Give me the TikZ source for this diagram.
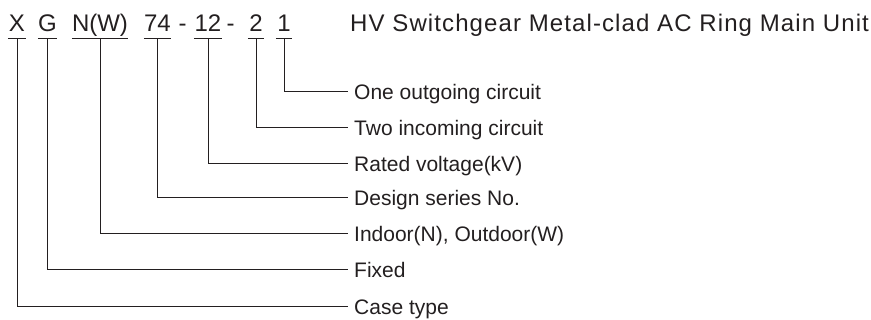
\documentclass[tikz,border=0pt]{standalone}
\usepackage{fontspec}
\setmainfont{Liberation Sans}
\definecolor{ink}{HTML}{231F20}
\begin{document}
\begin{tikzpicture}[x=1pt,y=-1pt,
  code/.style={anchor=base,inner xsep=0pt,inner ysep=6pt,text height=17pt,text depth=0pt,
    font=\fontsize{24}{24}\selectfont,text=ink},
  dashtxt/.style={anchor=base,inner sep=0pt,font=\fontsize{24}{24}\selectfont,text=ink},
  lbl/.style={anchor=west,inner xsep=6.5pt,inner ysep=0pt,text height=15pt,text depth=0pt,
    font=\fontsize{21}{21}\selectfont,text=ink},
  wire/.style={draw=ink,line width=1pt}]
\useasboundingbox (0,0) rectangle (871,320);
% code letters
\node[code,minimum width=18pt] (cX) at (17,32) {X};
\node[code,minimum width=19pt] (cG) at (47.5,32) {G};
\node[code,minimum width=56pt] (cN) at (100,32) {N(W)};
\node[code,minimum width=27pt] (c74) at (157.5,32) {74};
\node[dashtxt] (d1) at (182.5,32) {-};
\node[code,minimum width=28pt] (c12) at (208,32) {12};
\node[dashtxt] (d2) at (230.5,32) {-};
\node[code,minimum width=16pt] (c2) at (256,32) {2};
\node[code,minimum width=16pt] (c1) at (284,32) {1};
\node[anchor=base west,inner sep=0pt,font=\fontsize{24}{24}\selectfont\addfontfeatures{LetterSpace=4.6},text=ink] (title) at (350,32) {HV Switchgear Metal-clad AC Ring Main Unit};
% labels
\node[lbl] (l1) at (347.5,92) {One outgoing circuit};
\node[lbl] (l2) at (347.5,128) {Two incoming circuit};
\node[lbl] (l12) at (347.5,164) {Rated voltage(kV)};
\node[lbl] (l74) at (347.5,198) {Design series No.};
\node[lbl] (lN) at (347.5,234) {Indoor(N), Outdoor(W)};
\node[lbl] (lG) at (347.5,270) {Fixed};
\node[lbl] (lX) at (347.5,307) {Case type};
% underlines
\foreach \c in {cX,cG,cN,c74,c12,c2,c1}
  \draw[wire] (\c.south west) -- (\c.south east);
% connectors
\draw[wire] (c1.south) |- (l1.west);
\draw[wire] (c2.south) |- (l2.west);
\draw[wire] (c12.south) |- (l12.west);
\draw[wire] (c74.south) |- (l74.west);
\draw[wire] (cN.south) |- (lN.west);
\draw[wire] (cG.south) |- (lG.west);
\draw[wire] (cX.south) |- (lX.west);
\end{tikzpicture}
\end{document}
